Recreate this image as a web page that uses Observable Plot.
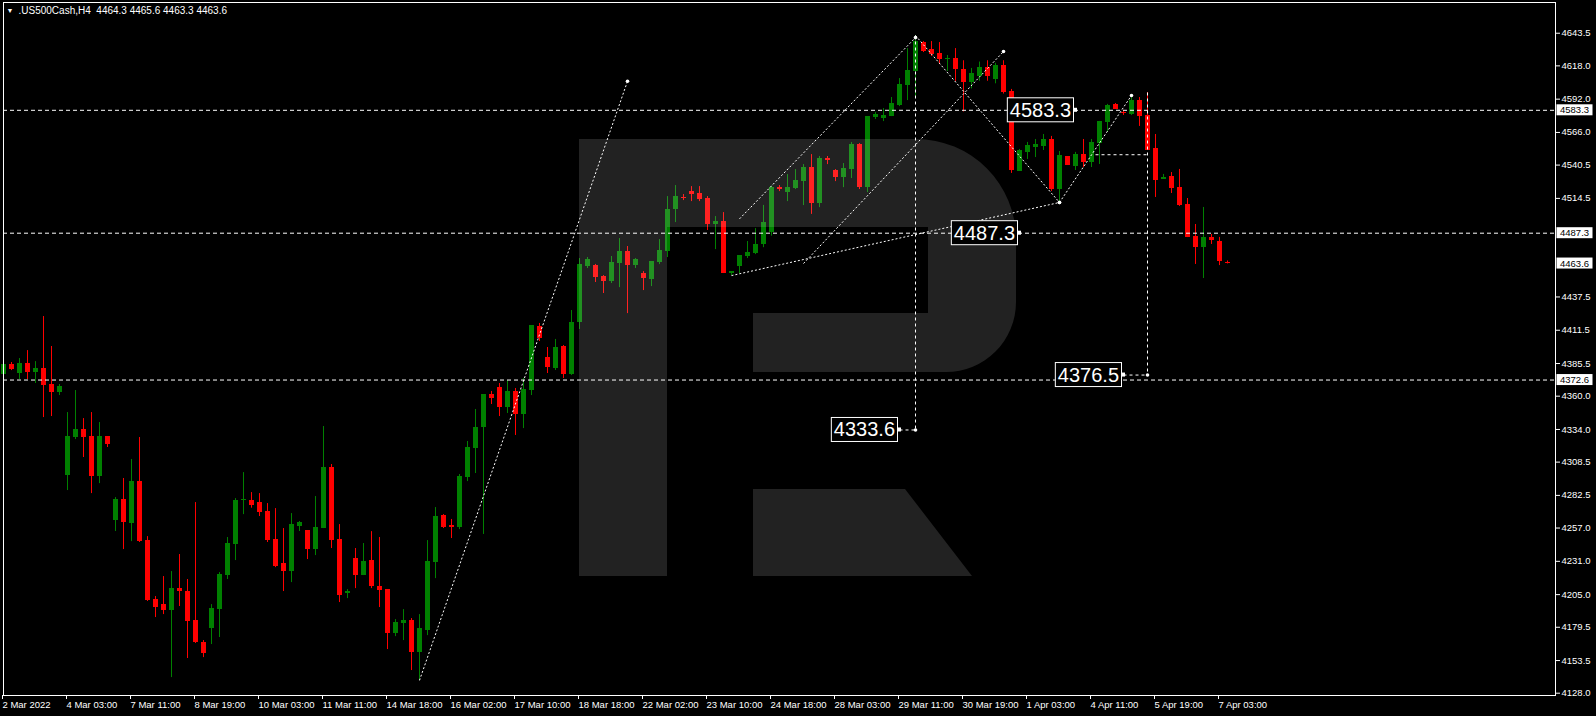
<!DOCTYPE html>
<html><head><meta charset="utf-8">
<script src="https://cdn.jsdelivr.net/npm/d3@7"></script>
<script src="https://cdn.jsdelivr.net/npm/@observablehq/plot@0.6"></script>
<style>
html,body{margin:0;padding:0;background:#000;}
#chart{position:relative;width:1596px;height:716px;overflow:hidden;}
</style></head><body><div id="chart"></div>
<script>
// ---------- data ----------
const symbolTitle = ".US500Cash,H4  4464.3 4465.6 4463.3 4463.6";
const opens = [4376.9,4384.7,4377.7,4385.5,4378.5,4381.6,4369.1,4362.8,4298.0,4327.7,4333.9,4328.5,4297.2,4328.5,4262.8,4279.2,4260.5,4293.3,4247.2,4201.1,4197.2,4192.5,4209.7,4207.4,4184.7,4167.6,4178.5,4193.3,4219.9,4244.1,4278.5,4278.5,4276.9,4269.9,4248.0,4229.2,4223.0,4258.1,4255.0,4240.2,4256.6,4304.2,4248.0,4205.8,4233.2,4219.9,4231.6,4211.3,4208.9,4174.6,4182.4,4184.7,4159.7,4176.9,4230.0,4266.7,4259.0,4257.4,4296.5,4319.1,4335.5,4361.3,4366.8,4351.2,4363.7,4345.7,4364.4,4414.4,4390.2,4381.6,4398.8,4376.9,4417.5,4461.3,4462.1,4453.4,4449.5,4463.6,4473.0,4462.0,4455.8,4451.1,4464.4,4473.0,4505.8,4515.2,4519.8,4518.3,4514.4,4494.1,4496.4,4455.8,4461.3,4469.1,4471.4,4478.4,4488.0,4522.9,4519.0,4522.1,4527.6,4538.6,4510.4,4545.6,4536.2,4530.8,4537.0,4556.5,4522.9,4577.6,4576.8,4578.4,4587.0,4602.6,4613.6,4636.2,4630.7,4627.6,4622.9,4623.7,4615.0,4605.0,4610.0,4617.0,4607.0,4618.0,4598.0,4535.5,4550.4,4554.3,4555.0,4560.5,4521.5,4547.2,4539.4,4548.8,4542.5,4557.4,4573.8,4587.9,4581.6,4580.0,4591.0,4579.3,4553.5,4529.3,4531.6,4523.0,4509.7,4484.7,4476.1,4483.9,4481.0,4464.3];
const highs = [4402.1,4386.3,4389.4,4395.6,4387.0,4422.2,4398.8,4369.1,4347.2,4364.4,4342.5,4347.2,4339.4,4328.5,4280.8,4295.7,4310.5,4327.7,4250.3,4203.5,4219.1,4223.0,4236.3,4216.8,4276.9,4169.1,4197.2,4222.2,4249.6,4280.0,4300.3,4284.7,4283.9,4276.1,4272.2,4256.6,4268.3,4262.1,4255.0,4281.6,4336.3,4306.6,4259.7,4208.9,4241.0,4244.9,4254.2,4249.6,4208.9,4185.5,4193.3,4186.3,4189.4,4247.2,4273.0,4267.5,4263.7,4298.8,4324.6,4349.6,4361.3,4363.7,4369.9,4372.2,4366.0,4373.8,4415.2,4416.8,4398.0,4404.3,4399.6,4426.9,4467.5,4468.3,4462.9,4454.2,4469.1,4483.1,4476.9,4467.5,4457.3,4465.2,4482.3,4515.9,4524.5,4517.5,4523.7,4523.7,4515.9,4500.3,4503.4,4457.3,4469.8,4480.8,4490.9,4509.0,4524.0,4524.5,4533.1,4537.0,4540.9,4548.7,4547.2,4547.2,4537.0,4541.7,4558.1,4557.3,4578.4,4581.5,4584.6,4593.3,4608.1,4631.5,4641.7,4637.0,4637.0,4636.2,4626.1,4631.5,4622.0,4616.0,4621.0,4622.0,4620.0,4622.0,4599.6,4552.7,4558.2,4560.5,4564.4,4562.9,4551.1,4547.2,4550.4,4560.5,4560.5,4574.6,4587.9,4588.6,4583.2,4594.9,4593.3,4597.2,4564.4,4533.2,4534.7,4537.1,4514.4,4494.1,4507.4,4486.3,4484.0,4465.6];
const lows = [4373.5,4380.0,4373.0,4373.0,4369.9,4343.3,4344.1,4360.5,4286.3,4326.1,4312.1,4283.9,4291.7,4319.9,4254.3,4240.2,4246.4,4245.7,4199.6,4187.1,4189.4,4140.2,4195.7,4155.1,4166.8,4155.8,4166.0,4171.5,4216.8,4231.6,4267.5,4272.5,4266.0,4245.7,4226.1,4207.4,4214.4,4254.3,4232.4,4235.5,4256.6,4241.0,4198.8,4201.9,4209.7,4219.9,4209.7,4194.9,4162.1,4172.2,4169.1,4145.7,4137.9,4173.0,4217.5,4256.6,4248.8,4255.8,4293.3,4299.6,4252.0,4353.5,4344.1,4346.5,4329.3,4334.7,4360.5,4402.7,4377.7,4380.1,4373.8,4376.2,4412.1,4459.7,4448.8,4440.2,4448.0,4444.8,4424.5,4459.7,4442.5,4445.6,4462.8,4468.3,4495.6,4512.8,4512.0,4512.0,4489.4,4474.5,4455.8,4454.2,4455.8,4467.5,4470.6,4476.0,4485.0,4519.8,4512.0,4521.4,4508.9,4502.0,4507.3,4540.9,4527.6,4522.9,4530.0,4521.4,4519.0,4576.1,4574.5,4578.4,4586.2,4590.9,4594.0,4628.4,4625.3,4619.0,4613.6,4605.8,4582.0,4600.0,4606.0,4606.0,4604.0,4596.0,4534.0,4535.5,4544.9,4546.4,4551.9,4519.9,4511.3,4540.2,4536.3,4538.6,4538.6,4541.0,4566.0,4583.9,4579.3,4579.3,4570.7,4551.9,4515.2,4529.3,4518.3,4508.2,4483.9,4462.9,4451.9,4478.5,4462.0,4463.3];
const closes = [4384.7,4380.8,4385.5,4378.5,4381.6,4368.3,4362.8,4367.5,4328.5,4333.9,4327.7,4297.2,4328.5,4322.2,4279.2,4261.3,4293.3,4246.4,4200.3,4194.9,4192.5,4209.7,4207.4,4183.9,4167.6,4159.0,4194.1,4220.7,4244.9,4278.5,4279.2,4274.8,4269.1,4247.2,4226.9,4223.0,4259.7,4261.3,4240.2,4257.4,4304.2,4247.2,4204.2,4207.4,4219.9,4230.8,4211.3,4208.2,4174.6,4183.1,4184.7,4159.7,4178.5,4230.8,4266.0,4257.4,4257.4,4297.2,4319.9,4335.5,4361.3,4358.2,4351.2,4363.7,4345.7,4365.2,4415.2,4405.1,4382.4,4398.0,4376.9,4417.5,4462.9,4466.8,4452.7,4449.5,4464.4,4473.0,4462.0,4466.7,4451.9,4465.2,4473.7,4505.8,4515.9,4514.6,4517.5,4513.6,4494.1,4496.4,4455.8,4457.3,4469.8,4472.2,4478.4,4496.0,4523.2,4521.4,4522.9,4528.4,4538.6,4510.4,4545.6,4544.0,4530.8,4537.8,4556.5,4522.9,4578.4,4580.0,4579.2,4588.6,4603.4,4614.3,4637.0,4629.2,4626.8,4622.9,4623.7,4615.1,4605.0,4612.0,4617.0,4610.0,4618.0,4597.5,4536.3,4551.9,4555.8,4556.6,4560.5,4521.5,4548.0,4540.2,4548.8,4542.5,4558.2,4574.6,4587.1,4583.9,4580.6,4591.0,4578.5,4551.9,4528.5,4530.8,4522.2,4508.9,4483.9,4476.1,4483.9,4481.6,4465.0,4463.6];

const xTickIndex = [0,8,16,24,32,40,48,56,64,72,80,88,96,104,112,120,128,136,144,152];
const xTickLabels = ["2 Mar 2022","4 Mar 03:00","7 Mar 11:00","8 Mar 19:00","10 Mar 03:00","11 Mar 11:00","14 Mar 18:00","16 Mar 02:00","17 Mar 10:00","18 Mar 18:00","22 Mar 02:00","23 Mar 10:00","24 Mar 18:00","28 Mar 03:00","29 Mar 11:00","30 Mar 19:00","1 Apr 03:00","4 Apr 11:00","5 Apr 19:00","7 Apr 03:00"];
const yTicks = [4643.5,4618.0,4592.0,4566.0,4540.5,4514.5,4437.5,4411.5,4385.5,4360.0,4334.0,4308.5,4282.5,4257.0,4231.0,4205.0,4179.5,4153.5,4128.0];

const levelLines = [4583.3, 4487.3, 4372.6];
const currentPrice = 4463.6;

// analysis drawings: [index, price] of start and end points
const trendFrom = [[52,4138.0],[92,4498.5],[91,4454.2],[100,4463.6],[114,4641.7],[132,4511.3]];
const trendTo   = [[78,4606.0],[114,4640.1],[132,4511.3],[125,4629.2],[132,4511.3],[141,4594.9]];
const targetLines = [
  {x1:114, y1:4641.7, x2:114, y2:4333.6},
  {x1:143, y1:4597.2, x2:143, y2:4376.5},
  {x1:136.5, y1:4548.6, x2:143, y2:4548.6},
  {x1:112, y1:4333.6, x2:114, y2:4333.6},
  {x1:140, y1:4376.5, x2:143, y2:4376.5}
];
const targetLabels = [4583.3, 4487.3, 4376.5, 4333.6];
const targetLabelIndex = [134, 127, 140, 112];

// ---------- build ----------
const candles = opens.map((o, i) => ({i, o, h: highs[i], l: lows[i], c: closes[i]}));
const bull = "#008000", bear = "#ff0000";
const col = d => d.c >= d.o ? bull : bear;
const trends = trendFrom.map((f, k) => ({x1: f[0], y1: f[1], x2: trendTo[k][0], y2: trendTo[k][1]}));
const FONT = "'Liberation Sans', Arial, sans-serif";

const chart = Plot.plot({
  width: 1596, height: 716,
  marginLeft: 3, marginRight: 41, marginTop: 2, marginBottom: 21,
  style: {background: "#000", color: "#fff", fontFamily: FONT, fontSize: "9.5px", overflow: "visible"},
  x: {type: "linear", domain: [0, 194], axis: null},
  y: {type: "linear", domain: [4126.2, 4667.5], axis: null},
  marks: [
    Plot.ruleX(candles, {x: "i", y1: "l", y2: "h", stroke: col, strokeWidth: 1}),
    Plot.rect(candles, {
      x1: d => d.i - 0.25, x2: d => d.i + 0.375,
      y1: d => Math.min(d.o, d.c), y2: d => Math.max(d.o, d.c, Math.min(d.o, d.c) + 0.8),
      fill: col, shapeRendering: "crispEdges"
    }),
    Plot.ruleY(levelLines, {stroke: "#fff", strokeDasharray: "4,3", strokeWidth: 1}),
    Plot.link(trends, {x1: "x1", y1: "y1", x2: "x2", y2: "y2", stroke: "#fff", strokeDasharray: "2,2", strokeWidth: 1}),
    Plot.link(targetLines, {x1: "x1", y1: "y1", x2: "x2", y2: "y2", stroke: "#fff", strokeDasharray: "3,3", strokeWidth: 1}),
    Plot.dot([...trendTo, [114, 4333.6], [143, 4376.5]], {x: d => d[0], y: d => d[1], r: 1.8, fill: "#fff", stroke: null}),
    Plot.frame({stroke: "#fff"}),
    Plot.axisY(yTicks, {anchor: "right", tickSize: 4, tickPadding: 2, tickFormat: d => d.toFixed(1), stroke: "#fff", color: "#fff", fontSize: 9.5}),
    Plot.axisX(xTickIndex, {anchor: "bottom", tickSize: 4, tickPadding: 2, tickFormat: d => xTickLabels[xTickIndex.indexOf(d)], textAnchor: "start", dx: -1, stroke: "#fff", color: "#fff", fontSize: 9.5}),
    Plot.text([symbolTitle], {frameAnchor: "top-left", text: d => d, dx: 15, dy: 4, fill: "#fff", fontSize: 10, textAnchor: "start", lineAnchor: "top"}),
    Plot.text(["▼"], {frameAnchor: "top-left", text: d => d, dx: 3, dy: 6, fill: "#fff", fontSize: 7, textAnchor: "start", lineAnchor: "top"})
  ]
});
document.getElementById("chart").appendChild(chart);

const sx = chart.scale("x"), sy = chart.scale("y");
const svg = d3.select(chart);

// watermark (decorative logo), semi-transparent over the candles
svg.append("path")
  .attr("d", "M579,139H667V576H579Z M667,139H916A100,100 0 0 1 1016,239V302A70,70 0 0 1 946,372H753V313H928V227H667Z M753,489H905L972,576H753Z")
  .attr("fill", "#fff").attr("fill-opacity", 0.135);

// boxed analysis labels
const lab = svg.append("g").attr("font-family", FONT).attr("text-anchor", "end");
targetLabels.forEach((v, k) => {
  const xr = sx.apply(targetLabelIndex[k]);
  const yc = sy.apply(v);
  const t = lab.append("text").attr("x", xr - 4).attr("y", yc).attr("text-anchor", "end")
    .attr("dominant-baseline", "central").attr("font-size", 20).attr("fill", "#fff").text(v.toFixed(1));
  const bb = t.node().getBBox();
  lab.insert("rect", "text").attr("x", bb.x - 2.5).attr("y", yc - 12).attr("width", bb.width + 5).attr("height", 24)
    .attr("fill", "#000").attr("stroke", "#fff").attr("stroke-width", 1);
  lab.append("rect").attr("x", xr - 1.5).attr("y", yc - 2).attr("width", 3.5).attr("height", 4).attr("fill", "#fff");
});

// right-axis price boxes
const ax = svg.append("g").attr("font-family", FONT).attr("text-anchor", "start");
[...levelLines, currentPrice].forEach(v => {
  const y = sy.apply(v);
  const x0 = sx.apply(194) + 1.5;
  ax.append("rect").attr("x", x0).attr("y", y - 5.5).attr("width", 36).attr("height", 11).attr("fill", "#fff");
  ax.append("text").attr("x", x0 + 3.5).attr("y", y).attr("text-anchor", "start").attr("dominant-baseline", "central")
    .attr("font-size", 9.5).attr("fill", "#000").text(v.toFixed(1));
});
</script>
</body></html>
